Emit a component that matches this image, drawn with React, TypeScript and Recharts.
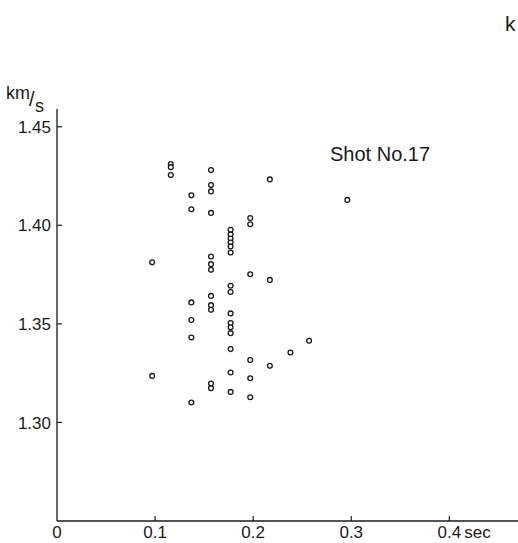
import React from "react";
import { ScatterChart, Scatter, XAxis, YAxis } from "recharts";

// travel time (sec) of each column of readings
const timeSec = [0.097, 0.116, 0.137, 0.157, 0.177, 0.197, 0.217, 0.238, 0.257, 0.296];

// apparent velocity readings (km/s) at each time
const velocityAt0097 = [1.3812, 1.3236];
const velocityAt0116 = [1.4311, 1.4295, 1.4255];
const velocityAt0137 = [1.4152, 1.4081, 1.3609, 1.352, 1.3431, 1.3101];
const velocityAt0157 = [1.428, 1.4204, 1.4172, 1.4063, 1.3842, 1.3803, 1.3774, 1.3642, 1.3595, 1.3571, 1.3197, 1.3174];
const velocityAt0177 = [1.3977, 1.3953, 1.3933, 1.3913, 1.3893, 1.3862, 1.3693, 1.3662, 1.3553, 1.3504, 1.3483, 1.3453, 1.3372, 1.3253, 1.3155];
const velocityAt0197 = [1.4037, 1.4005, 1.3752, 1.3317, 1.3224, 1.3128];
const velocityAt0217 = [1.4233, 1.3723, 1.3287];
const velocityAt0238 = [1.3355];
const velocityAt0257 = [1.3414];
const velocityAt0296 = [1.4129];

const velocityGroups = [
  velocityAt0097, velocityAt0116, velocityAt0137, velocityAt0157, velocityAt0177,
  velocityAt0197, velocityAt0217, velocityAt0238, velocityAt0257, velocityAt0296,
];

const xTicks = [0, 0.1, 0.2, 0.3, 0.4];
const xTickLabels = ["0", "0.1", "0.2", "0.3", "0.4"];
const yTicks = [1.3, 1.35, 1.4, 1.45];
const yTickLabels = ["1.30", "1.35", "1.40", "1.45"];
const title = "Shot No.17";

const points = timeSec.flatMap((t, i) => velocityGroups[i].map((v) => ({ x: t, y: v })));

const INK = "#1a1a1a";
const FONT = "'Liberation Sans', Arial, sans-serif";

const XTick = (props: any) => {
  const { x, y, payload } = props;
  const idx = xTicks.indexOf(payload.value);
  const label = idx >= 0 ? xTickLabels[idx] : String(payload.value);
  return (
    <g>
      {payload.value !== 0 && (
        <line x1={x} x2={x} y1={y} y2={y - 5} stroke={INK} strokeWidth={1.2} />
      )}
      <text x={x} y={y + 17} textAnchor="middle" fontSize={17} fontFamily={FONT} fill={INK}>
        {label}
      </text>
      {payload.value === 0.4 && (
        <text x={x + 15} y={y + 17} textAnchor="start" fontSize={17} fontFamily={FONT} fill={INK}>
          sec
        </text>
      )}
    </g>
  );
};

const YTick = (props: any) => {
  const { x, y, payload } = props;
  const idx = yTicks.indexOf(payload.value);
  const label = idx >= 0 ? yTickLabels[idx] : String(payload.value);
  return (
    <g>
      <line x1={x} x2={x + 5} y1={y} y2={y} stroke={INK} strokeWidth={1.2} />
      <text x={x - 6} y={y} dy="0.36em" textAnchor="end" fontSize={17} fontFamily={FONT} fill={INK}>
        {label}
      </text>
    </g>
  );
};

const OpenCircle = (props: any) => {
  const { cx, cy } = props;
  return <circle cx={cx} cy={cy} r={2.4} fill="#fff" stroke={INK} strokeWidth={1.3} />;
};

export default function App() {
  return (
    <div style={{ position: "absolute", left: 0, top: 0, width: 518, height: 543, background: "#fff" }}>
      <ScatterChart width={518} height={543} margin={{ top: 109, right: 0, bottom: 0, left: 0 }}>
        <XAxis
          type="number"
          dataKey="x"
          domain={[0, 0.47]}
          ticks={xTicks}
          height={22}
          tickSize={0}
          tickMargin={0}
          tickLine={false}
          tick={<XTick />}
          axisLine={{ stroke: INK, strokeWidth: 1.3 }}
          allowDataOverflow
        />
        <YAxis
          type="number"
          dataKey="y"
          domain={[1.25, 1.459]}
          ticks={yTicks}
          width={57}
          tickSize={0}
          tickMargin={0}
          tickLine={false}
          tick={<YTick />}
          axisLine={{ stroke: INK, strokeWidth: 1.3 }}
          allowDataOverflow
        />
        <Scatter data={points} shape={<OpenCircle />} isAnimationActive={false} />
      </ScatterChart>
      <div style={{ position: "absolute", left: 330, top: 142, fontFamily: FONT, fontSize: 20, color: INK, whiteSpace: "nowrap", lineHeight: "24px" }}>
        {title}
      </div>
      <div style={{ position: "absolute", left: 6, top: 83, fontFamily: FONT, fontSize: 18, color: INK, lineHeight: "20px" }}>km</div>
      <div style={{ position: "absolute", left: 29, top: 88, fontFamily: FONT, fontSize: 20, color: INK, lineHeight: "22px" }}>/</div>
      <div style={{ position: "absolute", left: 35, top: 96, fontFamily: FONT, fontSize: 18, color: INK, lineHeight: "20px" }}>s</div>
      <div style={{ position: "absolute", left: 505, top: 11, fontFamily: FONT, fontSize: 21, color: INK, lineHeight: "26px" }}>k</div>
    </div>
  );
}
